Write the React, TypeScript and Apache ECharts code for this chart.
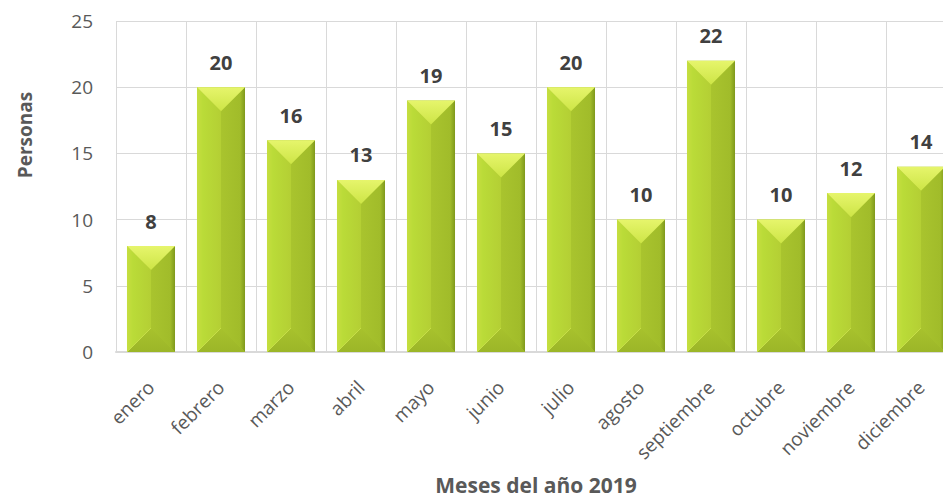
import React, { useEffect, useRef } from "react";
import * as echarts from "echarts";

const months = ["enero", "febrero", "marzo", "abril", "mayo", "junio", "julio", "agosto", "septiembre", "octubre", "noviembre", "diciembre"];
const persons = [8, 20, 16, 13, 19, 15, 20, 10, 22, 10, 12, 14];
const yTicks = { min: 0, max: 25, interval: 5 };
const xTitle = "Meses del año 2019";
const yTitle = "Personas";

const FONT = "Open Sans";
const TXT = "#595959";

export default function App() {
  const ref = useRef<HTMLDivElement>(null);
  useEffect(() => {
    if (!ref.current) return;
    const chart = echarts.init(ref.current, undefined, { renderer: "svg" });
    const BAR_RATIO = 0.686;
    chart.setOption({
      animation: false,
      backgroundColor: "#ffffff",
      grid: { left: 116, top: 21, width: 840, bottom: 147, containLabel: false, outerBoundsMode: "none" },
      xAxis: {
        type: "category",
        data: months,
        boundaryGap: true,
        axisLine: { show: true, lineStyle: { color: "#d9d9d9", width: 2 } },
        axisTick: { show: false },
        splitLine: { show: true, lineStyle: { color: "#d9d9d9", width: 1 } },
        axisLabel: { rotate: 45, margin: 32, fontSize: 19, color: TXT, fontFamily: FONT, interval: 0 },
      },
      yAxis: {
        type: "value",
        min: yTicks.min,
        max: yTicks.max,
        interval: yTicks.interval,
        axisLine: { show: false },
        axisTick: { show: false },
        splitLine: { show: true, lineStyle: { color: "#d9d9d9", width: 1 } },
        axisLabel: { margin: 23, fontSize: 19, color: TXT, fontFamily: FONT },
      },
      graphic: [
        {
          type: "text",
          x: 25,
          y: 135,
          rotation: Math.PI / 2,
          style: {
            text: yTitle,
            fontSize: 19,
            fontWeight: "bold",
            fill: TXT,
            fontFamily: FONT,
            align: "center",
            verticalAlign: "middle",
          },
        },
        {
          type: "text",
          x: 536,
          y: 485,
          style: {
            text: xTitle,
            fontSize: 21,
            fontWeight: "bold",
            fill: TXT,
            fontFamily: FONT,
            align: "center",
            verticalAlign: "middle",
          },
        },
      ],
      series: [
        {
          type: "bar",
          data: persons,
          barWidth: BAR_RATIO * 100 + "%",
          itemStyle: { color: "#a8c32d" },
          z: 2,
          label: {
            show: true,
            position: "top",
            distance: 15,
            fontSize: 20,
            fontWeight: "bold",
            color: "#404040",
            fontFamily: FONT,
          },
        },
        {
          type: "custom",
          z: 3,
          silent: true,
          data: persons.map((v, i) => [i, v]),
          renderItem: (params: any, api: any) => {
            const idx = api.value(0);
            const v = api.value(1);
            const top = api.coord([idx, v]);
            const base = api.coord([idx, 0]);
            const w = api.size([1, 0])[0] * BAR_RATIO;
            const h = w / 2;
            const cx = top[0];
            const x0 = cx - w / 2;
            const x1 = cx + w / 2;
            const y0 = top[1];
            const y1 = base[1];
            return {
              type: "group",
              children: [
                {
                  type: "polygon",
                  shape: { points: [[x0, y0], [cx, y0 + h], [cx, y1 - h], [x0, y1]] },
                  style: {
                    fill: new echarts.graphic.LinearGradient(0, 0, 1, 0, [
                      { offset: 0, color: "#c6de40" },
                      { offset: 0.25, color: "#badb38" },
                      { offset: 1, color: "#b4cf34" },
                    ]),
                  },
                },
                {
                  type: "polygon",
                  shape: { points: [[x1, y0], [cx, y0 + h], [cx, y1 - h], [x1, y1]] },
                  style: {
                    fill: new echarts.graphic.LinearGradient(0, 0, 1, 0, [
                      { offset: 0, color: "#a9c42e" },
                      { offset: 0.8, color: "#a1bc2a" },
                      { offset: 1, color: "#7f991c" },
                    ]),
                  },
                },
                {
                  type: "polygon",
                  shape: { points: [[x0, y0], [x1, y0], [cx, y0 + h]] },
                  style: {
                    fill: new echarts.graphic.LinearGradient(0, 0, 0, 1, [
                      { offset: 0, color: "#e6f56c" },
                      { offset: 1, color: "#cde546" },
                    ]),
                  },
                },
                {
                  type: "polygon",
                  shape: { points: [[x0, y1], [x1, y1], [cx, y1 - h]] },
                  style: {
                    fill: new echarts.graphic.LinearGradient(0, 0, 0, 1, [
                      { offset: 0, color: "#a8c22d" },
                      { offset: 1, color: "#9cb628" },
                    ]),
                  },
                },
                {
                  type: "line",
                  shape: { x1: x0, y1: y1, x2: cx, y2: y1 - h },
                  style: { stroke: "#c8df4a", lineWidth: 1 },
                },
              ],
            };
          },
        },
      ],
    });
    return () => chart.dispose();
  }, []);
  return <div ref={ref} style={{ position: "absolute", left: 0, top: 0, width: 943, height: 499 }} />;
}
